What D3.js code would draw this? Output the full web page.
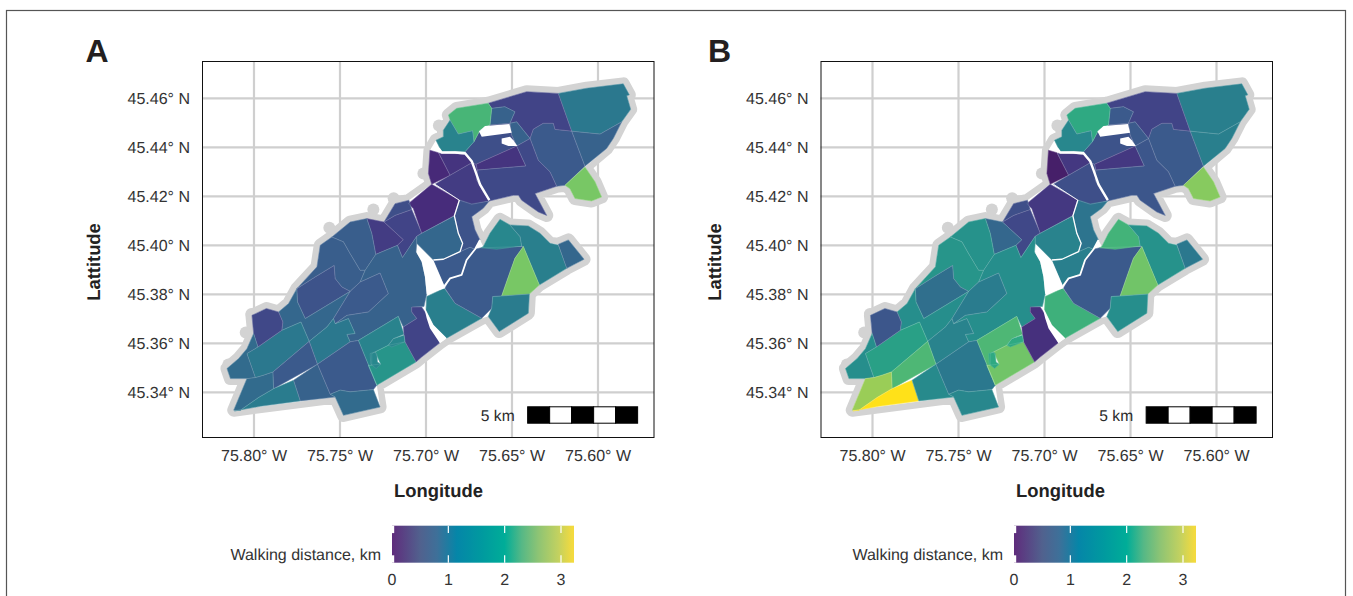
<!DOCTYPE html>
<html><head><meta charset="utf-8">
<script src="https://cdnjs.cloudflare.com/ajax/libs/d3/7.8.5/d3.min.js"></script>
<style>html,body{margin:0;padding:0;background:#fff}svg{display:block}text{font-family:"Liberation Sans",Arial,sans-serif;text-rendering:geometricPrecision}</style>
</head><body><div id="chart"></div>
<script>
// Coordinates are [degrees west, degrees north].
const regionRings = [
 /*NE1*/[[75.6231,45.4620],[75.6066,45.4641],[75.5853,45.4659],[75.5818,45.4614],[75.5833,45.4610],[75.5810,45.4555],[75.5862,45.4504],[75.5988,45.4454],[75.6153,45.4466]],
 /*NE2*/[[75.6153,45.4466],[75.5988,45.4454],[75.5862,45.4504],[75.5911,45.4436],[75.5950,45.4395],[75.6076,45.4323]],
 /*NE3*/[[75.6376,45.4474],[75.6318,45.4498],[75.6260,45.4498],[75.6250,45.4473],[75.6153,45.4466],[75.6076,45.4323],[75.6192,45.4245],[75.6240,45.4241],[75.6279,45.4300],[75.6347,45.4347],[75.6395,45.4436]],
 /*NE4*/[[75.6638,45.4580],[75.6415,45.4627],[75.6231,45.4620],[75.6153,45.4466],[75.6250,45.4473],[75.6260,45.4498],[75.6318,45.4498],[75.6376,45.4474],[75.6395,45.4436],[75.6473,45.4504],[75.6512,45.4498],[75.6483,45.4545],[75.6541,45.4566],[75.6618,45.4559]],
 /*R5*/[[75.6618,45.4559],[75.6541,45.4566],[75.6483,45.4545],[75.6512,45.4498],[75.6628,45.4491]],
 /*R6*/[[75.6512,45.4498],[75.6473,45.4504],[75.6395,45.4436],[75.6473,45.4405],[75.6502,45.4450]],
 /*R7*/[[75.6773,45.4382],[75.6721,45.4423],[75.6686,45.4470],[75.6628,45.4491],[75.6512,45.4498],[75.6502,45.4450],[75.6473,45.4405],[75.6709,45.4331],[75.6734,45.4337]],
 /*R8*/[[75.6709,45.4331],[75.6473,45.4405],[75.6420,45.4324],[75.6702,45.4307]],
 /*R9*/[[75.6473,45.4405],[75.6395,45.4436],[75.6347,45.4347],[75.6279,45.4300],[75.6240,45.4241],[75.6366,45.4211],[75.6298,45.4122],[75.6347,45.4136],[75.6444,45.4184],[75.6463,45.4204],[75.6492,45.4204],[75.6632,45.4181],[75.6667,45.4218],[75.6705,45.4266],[75.6702,45.4307],[75.6420,45.4324]],
 /*R10*/[[75.6870,45.4532],[75.6822,45.4559],[75.6638,45.4580],[75.6618,45.4559],[75.6628,45.4491],[75.6686,45.4470],[75.6721,45.4423],[75.6729,45.4468],[75.6812,45.4454],[75.6860,45.4511]],
 /*R11*/[[75.6899,45.4470],[75.6860,45.4511],[75.6812,45.4454],[75.6729,45.4468],[75.6721,45.4423],[75.6773,45.4382],[75.6831,45.4384],[75.6909,45.4382],[75.6942,45.4429],[75.6899,45.4443]],
 /*R12*/[[75.6977,45.4388],[75.6928,45.4378],[75.6860,45.4286],[75.6967,45.4249],[75.6986,45.4293]],
 /*R13*/[[75.6925,45.4376],[75.6831,45.4374],[75.6773,45.4370],[75.6734,45.4337],[75.6860,45.4286]],
 /*R14*/[[75.6948,45.4249],[75.6860,45.4286],[75.6734,45.4337],[75.6709,45.4331],[75.6702,45.4307],[75.6705,45.4266],[75.6667,45.4218],[75.6632,45.4181],[75.6734,45.4167],[75.6806,45.4184]],
 /*R15*/[[75.7103,45.4170],[75.6967,45.4249],[75.6806,45.4184],[75.6835,45.4122],[75.7025,45.4049],[75.7074,45.4150]],
 /*R16*/[[75.7025,45.4049],[75.6835,45.4120],[75.6812,45.4049],[75.6787,45.4008],[75.6802,45.3974],[75.6899,45.3943],[75.6957,45.3940],[75.7054,45.4008],[75.7054,45.4037]],
 /*R18*/[[75.6806,45.4185],[75.6734,45.4169],[75.6632,45.4181],[75.6667,45.4151],[75.6734,45.4117],[75.6715,45.4063],[75.6686,45.4022],[75.6715,45.3984],[75.6744,45.3992],[75.6802,45.3974],[75.6787,45.4008],[75.6812,45.4049],[75.6835,45.4120]],
 /*R19*/[[75.6957,45.3940],[75.6899,45.3943],[75.6802,45.3974],[75.6744,45.3992],[75.6715,45.3984],[75.6764,45.3940],[75.6793,45.3879],[75.6860,45.3865],[75.6893,45.3834]],
 /*R20*/[[75.6996,45.3791],[75.6893,45.3825],[75.6831,45.3763],[75.6676,45.3702],[75.6880,45.3621],[75.6957,45.3675],[75.7000,45.3736]],
 /*R21*/[[75.6680,45.3990],[75.6434,45.3995],[75.6483,45.3947],[75.6521,45.3872],[75.6560,45.3793],[75.6612,45.3791],[75.6618,45.3743],[75.6676,45.3702],[75.6831,45.3763],[75.6890,45.3825],[75.6860,45.3865],[75.6793,45.3879],[75.6764,45.3940],[75.6715,45.3984]],
 /*R22*/[[75.6667,45.3995],[75.6628,45.4049],[75.6570,45.4106],[75.6512,45.4083],[75.6453,45.4035],[75.6444,45.3997],[75.6589,45.3984],[75.6680,45.3990]],
 /*R23*/[[75.6512,45.4083],[75.6405,45.4079],[75.6337,45.4049],[75.6279,45.4008],[75.6231,45.4001],[75.6182,45.3906],[75.6341,45.3838],[75.6434,45.3995],[75.6444,45.3997],[75.6453,45.4035]],
 /*R24*/[[75.6231,45.4004],[75.6172,45.4022],[75.6081,45.3943],[75.6182,45.3906]],
 /*R25*/[[75.6434,45.3995],[75.6341,45.3838],[75.6399,45.3801],[75.6560,45.3793],[75.6521,45.3872],[75.6483,45.3947]],
 /*R26*/[[75.6612,45.3791],[75.6560,45.3793],[75.6399,45.3801],[75.6405,45.3723],[75.6574,45.3648],[75.6638,45.3709],[75.6618,45.3743]],
 /*R17*/[[75.6192,45.4245],[75.6076,45.4320],[75.6017,45.4259],[75.5979,45.4197],[75.6037,45.4181],[75.6134,45.4191],[75.6163,45.4231]],
 /*SB*/[[75.7180,45.4170],[75.7099,45.4184],[75.7083,45.4146],[75.7180,45.4122],[75.7244,45.4095]],
 /*R28*/[[75.7244,45.4095],[75.7180,45.4122],[75.7083,45.4146],[75.7025,45.4050],[75.7054,45.4037],[75.7137,45.3950],[75.7166,45.4000],[75.7132,45.4023]],
 /*R29*/[[75.7344,45.4109],[75.7244,45.4095],[75.7132,45.4023],[75.7166,45.4000],[75.7292,45.3963],[75.7315,45.4048]],
 /*WestB*/[[75.7547,45.4034],[75.7441,45.4095],[75.7344,45.4109],[75.7315,45.4048],[75.7292,45.3963],[75.7354,45.3898],[75.7383,45.3898],[75.7441,45.3966],[75.7480,45.4014]],
 /*WestA*/[[75.7634,45.3912],[75.7615,45.4000],[75.7547,45.4034],[75.7480,45.4014],[75.7441,45.3966],[75.7383,45.3898],[75.7354,45.3898],[75.7383,45.3850],[75.7441,45.3812],[75.7489,45.3830],[75.7528,45.3864],[75.7534,45.3918],[75.7644,45.3871],[75.7751,45.3823],[75.7692,45.3868]],
 /*P5*/[[75.7747,45.3769],[75.7751,45.3823],[75.7644,45.3871],[75.7534,45.3918],[75.7528,45.3864],[75.7489,45.3830],[75.7441,45.3812],[75.7702,45.3701]],
 /*P4*/[[75.7857,45.3728],[75.7799,45.3762],[75.7751,45.3823],[75.7747,45.3769],[75.7702,45.3701],[75.7441,45.3812],[75.7538,45.3701],[75.7576,45.3667],[75.7679,45.3608],[75.7727,45.3687],[75.7838,45.3653],[75.7832,45.3687]],
 /*BigC*/[[75.7354,45.3898],[75.7292,45.3963],[75.7166,45.4000],[75.7137,45.3950],[75.7054,45.4037],[75.7054,45.4008],[75.7058,45.3974],[75.7025,45.3933],[75.7006,45.3872],[75.6996,45.3801],[75.7012,45.3750],[75.7083,45.3748],[75.7083,45.3728],[75.7054,45.3701],[75.7132,45.3667],[75.7161,45.3710],[75.7393,45.3612],[75.7441,45.3606],[75.7460,45.3636],[75.7412,45.3640],[75.7451,45.3701],[75.7528,45.3680],[75.7460,45.3714],[75.7335,45.3728],[75.7219,45.3803],[75.7267,45.3887],[75.7383,45.3850]],
 /*Inner*/[[75.7383,45.3850],[75.7267,45.3887],[75.7219,45.3803],[75.7335,45.3728],[75.7460,45.3714],[75.7528,45.3680],[75.7538,45.3701],[75.7441,45.3812]],
 /*S*/[[75.7679,45.3608],[75.7576,45.3667],[75.7538,45.3701],[75.7528,45.3680],[75.7451,45.3701],[75.7412,45.3640],[75.7460,45.3636],[75.7441,45.3606],[75.7631,45.3515]],
 /*P3*/[[75.8041,45.3558],[75.7977,45.3585],[75.7838,45.3653],[75.7727,45.3687],[75.7679,45.3608],[75.7890,45.3483],[75.7944,45.3470],[75.7992,45.3460]],
 /*P1*/[[75.8012,45.3714],[75.7928,45.3742],[75.7857,45.3728],[75.7832,45.3687],[75.7838,45.3653],[75.7977,45.3585],[75.8002,45.3640]],
 /*P2*/[[75.8002,45.3640],[75.7977,45.3585],[75.8041,45.3558],[75.7992,45.3460],[75.8041,45.3456],[75.8137,45.3456],[75.8157,45.3497],[75.8089,45.3538],[75.8041,45.3578]],
 /*D*/[[75.7890,45.3483],[75.7679,45.3608],[75.7631,45.3515],[75.7886,45.3415]],
 /*E*/[[75.8118,45.3327],[75.8041,45.3456],[75.7992,45.3460],[75.7944,45.3470],[75.7890,45.3483],[75.7886,45.3415],[75.7973,45.3379],[75.8079,45.3327]],
 /*F*/[[75.8114,45.3324],[75.8079,45.3327],[75.7973,45.3379],[75.7886,45.3415],[75.7770,45.3449],[75.7731,45.3365],[75.7963,45.3343]],
 /*G*/[[75.7770,45.3449],[75.7631,45.3515],[75.7557,45.3392],[75.7528,45.3381],[75.7731,45.3365]],
 /*H*/[[75.7631,45.3515],[75.7441,45.3606],[75.7393,45.3612],[75.7286,45.3429],[75.7306,45.3411],[75.7441,45.3402],[75.7499,45.3409],[75.7557,45.3392]],
 /*I*/[[75.7557,45.3392],[75.7499,45.3409],[75.7441,45.3402],[75.7306,45.3411],[75.7267,45.3340],[75.7480,45.3306],[75.7528,45.3381]],
 /*J*/[[75.7393,45.3612],[75.7161,45.3710],[75.7128,45.3637],[75.7190,45.3619],[75.7219,45.3592],[75.7296,45.3565],[75.7315,45.3558],[75.7315,45.3510],[75.7335,45.3510],[75.7286,45.3429]],
 /*K*/[[75.7286,45.3429],[75.7335,45.3510],[75.7263,45.3515],[75.7296,45.3565],[75.7219,45.3592],[75.7122,45.3606],[75.7058,45.3524]],
 /*L*/[[75.7083,45.3748],[75.7025,45.3748],[75.6987,45.3708],[75.6919,45.3602],[75.7025,45.3544],[75.7058,45.3524],[75.7122,45.3606],[75.7128,45.3637],[75.7132,45.3667],[75.7054,45.3701],[75.7083,45.3728]],
 /*E1*/[[75.7325,45.3558],[75.7296,45.3565],[75.7286,45.3558],[75.7282,45.3524],[75.7263,45.3515],[75.7290,45.3497],[75.7321,45.3515]],
 /*E2*/[[75.7219,45.3592],[75.7190,45.3619],[75.7128,45.3633],[75.7122,45.3606],[75.7199,45.3585]]
];
// Walking distance in km per region, one value per ring, in the same order.
const valuesA = [1.3,1.05,.95,.65,1.05,1.05,.8,.45,.72,2.25,1.45,.3,.45,.55,.35,1.1,.85,.95,1.4,.95,1.5,1.4,1.1,2.6,1.35,2.6,.8,.65,.55,1.0,1.0,.85,1.1,1.05,.95,1.3,1.3,.7,1.15,.95,1.15,1.35,1.05,.95,1.15,1.45,1.7,.65,1.5,1.5];
const valuesB = [1.4,1.4,.95,.65,.95,.95,.85,.5,.9,2.0,1.5,.12,.5,.8,.5,1.45,1.25,1.4,2.15,.95,2.2,1.65,1.3,2.55,1.6,2.68,.8,.7,1.1,1.65,1.7,1.2,1.6,1.6,1.35,1.45,1.85,.9,1.6,2.3,2.78,3.25,1.55,1.3,1.5,2.3,2.55,.4,2.0,2.0];
const hullOutline = [[75.6822,45.4559],[75.6638,45.4580],[75.6415,45.4627],[75.6231,45.4620],[75.6066,45.4641],[75.5853,45.4659],[75.5818,45.4614],[75.5833,45.4610],[75.5810,45.4555],[75.5862,45.4504],[75.5911,45.4436],[75.5950,45.4395],[75.6076,45.4320],[75.6017,45.4259],[75.5979,45.4197],[75.6037,45.4181],[75.6134,45.4191],[75.6163,45.4231],[75.6192,45.4245],[75.6240,45.4241],[75.6366,45.4211],[75.6298,45.4122],[75.6347,45.4136],[75.6444,45.4184],[75.6463,45.4204],[75.6492,45.4204],[75.6632,45.4181],[75.6667,45.4151],[75.6734,45.4117],[75.6715,45.4063],[75.6686,45.4022],[75.6667,45.3995],[75.6628,45.4049],[75.6570,45.4106],[75.6512,45.4083],[75.6405,45.4079],[75.6337,45.4049],[75.6279,45.4008],[75.6231,45.4004],[75.6172,45.4022],[75.6081,45.3943],[75.6182,45.3906],[75.6341,45.3838],[75.6399,45.3801],[75.6405,45.3723],[75.6574,45.3648],[75.6638,45.3709],[75.6676,45.3702],[75.6880,45.3621],[75.6919,45.3602],[75.7025,45.3544],[75.7058,45.3524],[75.7286,45.3429],[75.7267,45.3340],[75.7480,45.3306],[75.7528,45.3381],[75.8118,45.3327],[75.8041,45.3456],[75.8137,45.3456],[75.8157,45.3497],[75.8089,45.3538],[75.8041,45.3578],[75.8002,45.3640],[75.8012,45.3714],[75.7928,45.3742],[75.7857,45.3728],[75.7799,45.3762],[75.7751,45.3823],[75.7692,45.3868],[75.7634,45.3912],[75.7615,45.4000],[75.7547,45.4034],[75.7441,45.4095],[75.7344,45.4109],[75.7244,45.4095],[75.7180,45.4170],[75.7099,45.4184],[75.6967,45.4249],[75.6986,45.4293],[75.6977,45.4388],[75.6942,45.4429],[75.6899,45.4443],[75.6899,45.4470],[75.6860,45.4511],[75.6870,45.4532]];
const hullBumps = [[75.7562,45.4072],[75.7306,45.4146],[75.8048,45.3644],[75.8149,45.3513],[75.8015,45.3720],[75.7188,45.4192],[75.7015,45.4293],[75.6925,45.4489]];
const riverMain = [[75.6948,45.4405],[75.6922,45.4391],[75.6909,45.4379],[75.6831,45.4379],[75.6773,45.4376],[75.6734,45.4343],[75.6715,45.4307],[75.6686,45.4249],[75.6632,45.4184]];
const riverWest = [[75.6806,45.4185],[75.6835,45.4120],[75.6812,45.4049],[75.6787,45.4008],[75.6802,45.3974],[75.6899,45.3943],[75.6957,45.3940]];
const riverEast = [[75.6686,45.4022],[75.6715,45.3984],[75.6764,45.3940],[75.6793,45.3879],[75.6860,45.3865],[75.6893,45.3834]];
const riverLink = [[75.6948,45.4249],[75.6806,45.4184]];
const whitePatches = [
 [[75.7058,45.3974],[75.7006,45.3947],[75.6957,45.3937],[75.6893,45.3834],[75.6890,45.3825],[75.6996,45.3801],[75.7006,45.3872],[75.7025,45.3933]],
 [[75.7012,45.3750],[75.6957,45.3675],[75.6880,45.3621],[75.6919,45.3600],[75.6977,45.3661],[75.6996,45.3702]],
 [[75.6692,45.4464],[75.6657,45.4487],[75.6515,45.4495],[75.6502,45.4459],[75.6676,45.4443]],
 [[75.6560,45.4436],[75.6512,45.4443],[75.6492,45.4429],[75.6469,45.4405],[75.6521,45.4405],[75.6560,45.4416]]
];
const lonTicks = [75.80,75.75,75.70,75.65,75.60];
const latTicks = [45.46,45.44,45.42,45.40,45.38,45.36,45.34];
const legendTicks = [0,1,2,3];
const legendStops = [[0,"#5f2c7c"],[.5,"#51618e"],[.8,"#3e7099"],[1.15,"#0586a8"],[1.6,"#009a9f"],[2,"#00ad98"],[2.3,"#55b886"],[2.6,"#8ec474"],[2.95,"#c2d160"],[3.2,"#f3da3e"]];
const fillKm = [0,.325,.65,.975,1.3,1.625,1.95,2.275,2.6,2.925,3.25];
const fillColors = ["#45195f","#472a7a","#414487","#3a5c8c","#2b788e","#26908c","#2aa784","#4ab676","#78c765","#b5d24c","#ffe119"];
const scaleKm = 5;
const scaleSegments = d3.range(scaleKm);
const panelLabels = ["A","B"];

const svg = d3.select("#chart").append("svg").attr("width",1353).attr("height",596);
svg.append("rect").attr("x",6.5).attr("y",10.5).attr("width",1339).attr("height",620)
   .attr("fill","#fff").attr("stroke","#555").attr("stroke-width",1.2);

const color = d3.scaleLinear().domain(fillKm).range(fillColors);
const defs = svg.append("defs");

function panel(idx, values, dx){
  const g = svg.append("g");
  const x = d3.scaleLinear().domain([75.80,75.60]).range([254+dx,598+dx]);
  const y = d3.scaleLinear().domain([45.46,45.34]).range([98.3,392.3]);
  const L=202+dx,R=654+dx,T=61,B=437;
  const ring = d3.line().x(d=>x(d[0])).y(d=>y(d[1])).curve(d3.curveLinearClosed);
  const open = d3.line().x(d=>x(d[0])).y(d=>y(d[1]));

  g.append("text").text(panelLabels[idx]).attr("x",85.5+(idx?622.5:0)).attr("y",61.5)
   .attr("font-size",32).attr("font-weight","bold").attr("fill","#231f20");

  g.selectAll(".gv").data(lonTicks).join("line").attr("x1",d=>x(d)).attr("x2",d=>x(d)).attr("y1",T).attr("y2",B)
   .attr("stroke","#cfcfcf").attr("stroke-width",2.2);
  g.selectAll(".gh").data(latTicks).join("line").attr("class","gh").attr("x1",L).attr("x2",R).attr("y1",d=>y(d)).attr("y2",d=>y(d))
   .attr("stroke","#cfcfcf").attr("stroke-width",2.2);

  g.append("path").attr("d",ring(hullOutline)).attr("fill","#d3d3d3").attr("stroke","#d3d3d3").attr("stroke-width",13).attr("stroke-linejoin","round");
  g.selectAll(".bump").data(hullBumps).join("circle").attr("cx",d=>x(d[0])).attr("cy",d=>y(d[1])).attr("r",6).attr("fill","#d3d3d3");
  g.append("path").attr("d",ring(hullOutline)).attr("fill","#fff");

  g.selectAll(".reg").data(regionRings).join("path").attr("d",ring)
   .attr("fill",(d,i)=>color(values[i])).attr("stroke",(d,i)=>color(values[i])).attr("stroke-width",.5);
  g.selectAll(".edge").data(regionRings).join("path").attr("d",ring)
   .attr("fill","none").attr("stroke","#fff").attr("stroke-opacity",.2).attr("stroke-width",.5);

  g.selectAll(".patch").data(whitePatches).join("path").attr("d",ring).attr("fill","#fff");
  [[riverMain,2.4],[riverWest,1.3],[riverEast,1.8],[riverLink,.9]].forEach(([r,w])=>{
    g.append("path").attr("d",open(r)).attr("fill","none").attr("stroke","#fff").attr("stroke-width",w).attr("stroke-linejoin","round");
  });

  // scale bar
  const kmPerDeg = 78.2, barStart = 75.6409;
  const bx = d3.scaleLinear().domain([0,scaleKm]).range([x(barStart),x(barStart-scaleKm/kmPerDeg)]);
  g.selectAll(".seg").data(scaleSegments).join("rect").attr("x",d=>bx(d)).attr("y",406.8)
   .attr("width",d=>bx(d+1)-bx(d)).attr("height",16.4)
   .attr("fill",d=>d%2?"#fff":"#000").attr("stroke","#000").attr("stroke-width",1);
  g.append("text").text(scaleKm+" km").attr("x",bx(0)-13).attr("y",421).attr("text-anchor","end")
   .attr("font-size",15.6).attr("fill","#2b2b2b");

  g.append("rect").attr("x",L+.5).attr("y",T+.5).attr("width",R-L-.5).attr("height",B-T).attr("fill","none").attr("stroke","#111").attr("stroke-width",1);

  g.selectAll(".xl").data(lonTicks).join("text").text(d=>d.toFixed(2)+"° W").attr("x",d=>x(d)).attr("y",460.5)
   .attr("text-anchor","middle").attr("font-size",16).attr("fill","#333");
  g.selectAll(".yl").data(latTicks).join("text").text(d=>d.toFixed(2)+"° N").attr("x",190+dx).attr("y",d=>y(d)+5.4)
   .attr("text-anchor","end").attr("font-size",16).attr("fill","#333");

  g.append("text").text("Longitude").attr("x",438.5+(idx?622:0)).attr("y",497).attr("text-anchor","middle")
   .attr("font-size",18.4).attr("font-weight","bold").attr("fill","#222");
  const lx = idx?721:99.5;
  g.append("text").text("Lattitude").attr("transform",`translate(${lx},262) rotate(-90)`).attr("text-anchor","middle")
   .attr("font-size",18.4).attr("font-weight","bold").attr("fill","#222");

  // legend
  const lg0 = idx?1014:392;
  const lk = d3.scaleLinear().domain([0,3]).range([lg0,lg0+169]);
  const gid = "grad"+idx;
  const pct = d3.scaleLinear().domain([0,182/(169/3)]).range([0,100]);
  defs.append("linearGradient").attr("id",gid).selectAll("stop").data(legendStops).join("stop")
    .attr("offset",d=>pct(d[0])+"%").attr("stop-color",d=>d[1]);
  g.append("rect").attr("x",lg0).attr("y",525.7).attr("width",182).attr("height",37).attr("fill",`url(#${gid})`);
  const bandTop=525.7,bandBot=562.7,tickLen=7.4;
  g.selectAll(".lt1").data(legendTicks).join("line").attr("x1",d=>lk(d)+(d?0:.5)).attr("x2",d=>lk(d)+(d?0:.5)).attr("y1",bandTop).attr("y2",bandTop+tickLen).attr("stroke","#fff").attr("stroke-width",d=>d?1.2:3.4);
  g.selectAll(".lt2").data(legendTicks).join("line").attr("x1",d=>lk(d)+(d?0:.5)).attr("x2",d=>lk(d)+(d?0:.5)).attr("y1",bandBot-tickLen).attr("y2",bandBot).attr("stroke","#fff").attr("stroke-width",d=>d?1.2:3.4);
  g.selectAll(".ll").data(legendTicks).join("text").text(d=>d).attr("x",d=>lk(d)).attr("y",585).attr("text-anchor","middle")
   .attr("font-size",16).attr("fill","#333");
  g.append("text").text("Walking distance, km").attr("x",lg0-11).attr("y",560).attr("text-anchor","end")
   .attr("font-size",16).attr("fill","#333");
}
panel(0,valuesA,0);
panel(1,valuesB,618.5);
</script></body></html>
